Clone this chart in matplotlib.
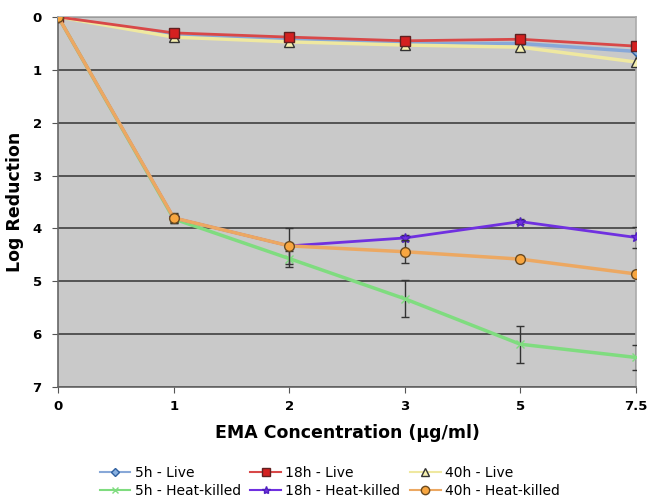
import numpy as np
import matplotlib
matplotlib.use("Agg")
from matplotlib import pyplot as plt
from matplotlib.lines import Line2D

# categories on x axis (evenly spaced, categorical)
conc_labels = ["0", "1", "2", "3", "5", "7.5"]

# log reduction per series
live_5h = [0, 0.35, 0.43, 0.50, 0.50, 0.65]
live_18h = [0, 0.30, 0.38, 0.45, 0.42, 0.55]
live_40h = [0, 0.38, 0.47, 0.53, 0.57, 0.85]
hk_5h = [0, 3.82, 4.57, 5.33, 6.19, 6.44]
hk_18h = [0, 3.80, 4.33, 4.18, 3.87, 4.17]
hk_40h = [0, 3.80, 4.33, 4.44, 4.58, 4.86]

# error bars
hk_5h_err = [0, 0.08, 0.15, 0.35, 0.35, 0.23]
hk_18h_err = [0, 0.08, 0.34, 0.05, 0.05, 0.20]
hk_40h_err = [0, 0.10, 0.05, 0.22, 0.05, 0.05]

x = np.arange(len(conc_labels))

fig = plt.figure(figsize=(6.48, 5.01), dpi=100, facecolor='w')
ax = fig.add_axes([0.09, 0.2275, 0.891, 0.7385])
ax.set_facecolor('#c9c9c9')

ekw = dict(ecolor='#333333', elinewidth=1, capsize=3, capthick=1)

# style per series: (color, lw, marker, ms, mfc, mec)
styles = {
    '5h - Live': ('#88a8d8', 2.5, 'D', 5, '#88b0e0', '#3060a0'),
    '18h - Live': ('#d84848', 2, 's', 7, '#d42020', '#602020'),
    '40h - Live': ('#efe8a0', 2.5, '^', 7, '#f6f0b0', '#333333'),
    '5h - Heat-killed': ('#7fdc7f', 2.5, 'x', 6, '#7fdc7f', '#7fdc7f'),
    '18h - Heat-killed': ('#7030e0', 2, '*', 7, '#7030e0', '#5020c0'),
    '40h - Heat-killed': ('#eca862', 2.5, 'o', 7, '#f8a640', '#6a4a20'),
}

def draw(vals, name, err=None, z=3):
    c, lw, m, ms, mfc, mec = styles[name]
    if err is None:
        ax.plot(x, vals, color=c, lw=lw, marker=m, ms=ms, mfc=mfc, mec=mec,
                mew=1, zorder=z)
    else:
        ax.errorbar(x, vals, yerr=err, color=c, lw=lw, marker=m, ms=ms,
                    mfc=mfc, mec=mec, mew=1, zorder=z, **ekw)

draw(hk_5h, '5h - Heat-killed', hk_5h_err, 3)
draw(hk_18h, '18h - Heat-killed', hk_18h_err, 4)
draw(hk_40h, '40h - Heat-killed', hk_40h_err, 5)
draw(live_5h, '5h - Live', None, 3)
draw(live_40h, '40h - Live', None, 4)
draw(live_18h, '18h - Live', None, 5)

ax.set_xlim(0, len(x) - 1)
ax.set_ylim(7, 0)
ax.set_yticks(range(8))
ax.set_xticks(x)
ax.set_xticklabels(conc_labels)
ax.grid(axis='y', color='#404040', lw=1.2)
ax.set_axisbelow(True)
for tick in ax.xaxis.get_major_ticks() + ax.yaxis.get_major_ticks():
    tick.label1.set_fontsize(9.5)
    tick.label1.set_fontweight('bold')
ax.tick_params(axis='x', direction='out', length=4, color='#555555', pad=5)
ax.tick_params(axis='y', direction='out', length=4, color='#555555', pad=8)
ax.spines['left'].set_color('#666666')
ax.spines['bottom'].set_color('#666666')
ax.spines['top'].set_color('#aaaaaa')
ax.spines['right'].set_color('#aaaaaa')
for s in ax.spines.values():
    s.set_linewidth(1.2)

ax.set_xlabel('EMA Concentration (µg/ml)', fontsize=12.5, fontweight='bold', labelpad=8)
ax.set_ylabel('Log Reduction', fontsize=12.5, fontweight='bold', labelpad=6)

order = ['5h - Live', '5h - Heat-killed', '18h - Live', '18h - Heat-killed',
         '40h - Live', '40h - Heat-killed']
handles = []
for k in order:
    c, lw, m, ms, mfc, mec = styles[k]
    handles.append(Line2D([], [], color=c, lw=1.5, marker=m, ms=ms - 1,
                          mfc=mfc, mec=mec, mew=1))
ax.legend(handles, order, ncol=3, loc='upper center',
          bbox_to_anchor=(0.47, -0.18), frameon=False, fontsize=10,
          handlelength=2.2, handletextpad=0.3, columnspacing=0.7,
          labelspacing=0.3)

plt.savefig("out.png", dpi=100)
